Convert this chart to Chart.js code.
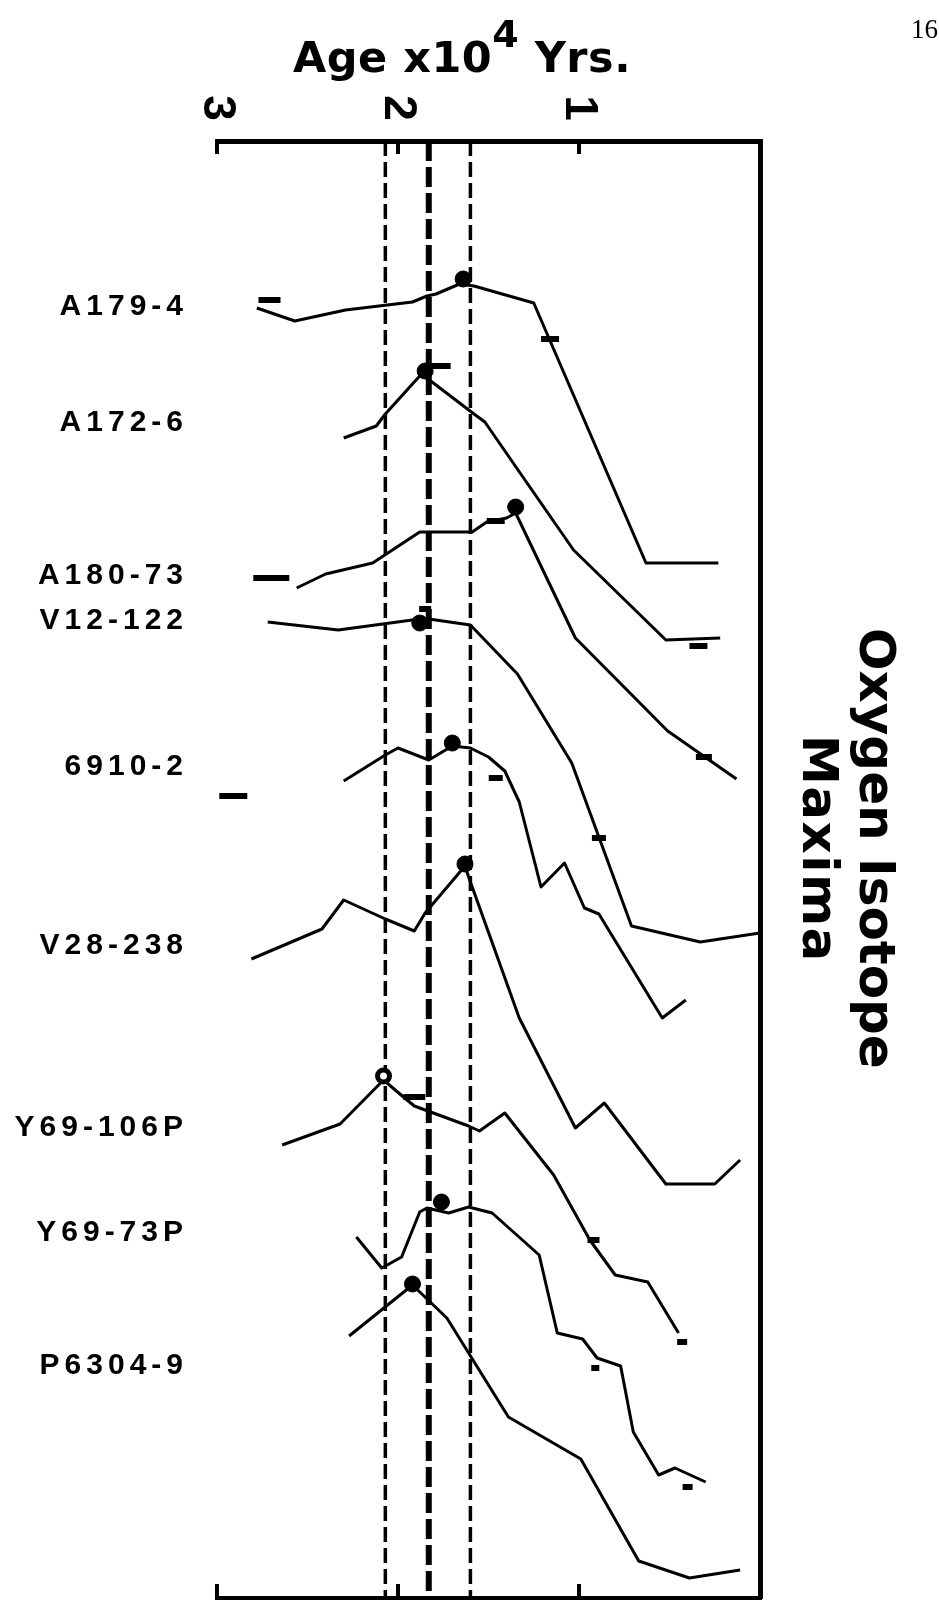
<!DOCTYPE html>
<html>
<head>
<meta charset="utf-8">
<title>Oxygen Isotope Maxima</title>
<script src="https://cdn.jsdelivr.net/npm/chart.js@4.4.1/dist/chart.umd.min.js"></script>
<style>
  body { margin: 0; background: #fff; }
  #wrap { position: relative; width: 939px; height: 1601px; overflow: hidden; }
  #wrap canvas { position: absolute; left: 0; top: 0; }
  #page { position: absolute; left: 911px; top: 16px; font: 27px/27px "Liberation Serif", serif; color: #000; }
  #title { position: absolute; left: 293px; top: 36px; font: bold 43px/43px "DejaVu Sans", sans-serif; letter-spacing: 0.5px; white-space: nowrap; color: #000; }
  #title .sup { font-size: 38px; position: relative; top: -25px; }
  .vert { position: absolute; writing-mode: vertical-rl; font: bold 50px/50px "DejaVu Sans", sans-serif; white-space: nowrap; color: #000; }
  #oxy { left: 852px; top: 628px; }
  #maxima { left: 795px; top: 735px; letter-spacing: 1.5px; }
</style>
</head>
<body>
<div id="wrap">
  <canvas id="chart" width="939" height="1601"></canvas>
  <div id="page">16</div>
  <div id="title">Age x10<span class="sup">4</span> Yrs.</div>
  <div class="vert" id="oxy">Oxygen Isotope</div>
  <div class="vert" id="maxima">Maxima</div>
</div>
<script>
// age axis (x10^4 yrs), runs right to left
const ageTicks = [3, 2, 1];

// cores, top to bottom, and where their names sit on the vertical offset axis
const coreNames = ['A179-4', 'A172-6', 'A180-73', 'V12-122', '6910-2', 'V28-238', 'Y69-106P', 'Y69-73P', 'P6304-9'];
const labelPos = [307, 423, 576, 621, 767, 946, 1128, 1233, 1366];

// vertical offset range of the panel
const yTop = 141;
const yBottom = 1598;

// profiles: [age, offset]
const a179_4 = [[2.78, 308], [2.57, 321], [2.29, 310], [1.92, 302], [1.84, 296], [1.79, 294], [1.66, 284], [1.58, 286], [1.25, 303], [0.63, 563], [0.23, 563]];
const a172_6 = [[2.30, 438], [2.12, 426], [2.07, 414], [1.87, 374], [1.58, 414], [1.52, 422], [1.31, 477], [1.03, 550], [0.52, 640], [0.22, 638]];
const a180_73 = [[2.56, 588], [2.40, 574], [2.14, 563], [1.88, 532], [1.59, 532], [1.51, 522], [1.40, 518], [1.35, 513], [1.02, 638], [0.51, 731], [0.13, 779]];
const v12_122 = [[2.72, 622], [2.33, 630], [1.88, 619], [1.83, 619], [1.60, 625], [1.34, 674], [1.04, 763], [0.71, 926], [0.33, 942], [0.00, 933]];
const c6910_2 = [[2.30, 781], [2.07, 755], [2.00, 748], [1.83, 760], [1.70, 746], [1.60, 748], [1.50, 757], [1.41, 771], [1.33, 802], [1.21, 887], [1.08, 863], [0.97, 908], [0.89, 914], [0.54, 1018], [0.41, 1000]];
const v28_238 = [[2.81, 959], [2.42, 929], [2.30, 900], [2.07, 919], [1.91, 931], [1.85, 913], [1.63, 866], [1.60, 882], [1.33, 1018], [1.02, 1128], [0.86, 1103], [0.52, 1184], [0.25, 1184], [0.11, 1160]];
const y69_106p = [[2.64, 1145], [2.32, 1124], [2.08, 1080], [1.97, 1097], [1.91, 1106], [1.85, 1110], [1.61, 1126], [1.55, 1131], [1.41, 1113], [1.14, 1175], [0.94, 1240], [0.80, 1275], [0.62, 1282], [0.45, 1333]];
const y69_73p = [[2.23, 1237], [2.09, 1268], [1.98, 1257], [1.88, 1212], [1.84, 1208], [1.72, 1213], [1.61, 1207], [1.48, 1213], [1.22, 1255], [1.12, 1333], [0.98, 1339], [0.90, 1358], [0.77, 1366], [0.70, 1432], [0.56, 1475], [0.47, 1468], [0.30, 1482]];
const p6304_9 = [[2.27, 1336], [1.92, 1285], [1.73, 1318], [1.39, 1417], [0.99, 1459], [0.67, 1561], [0.39, 1578], [0.11, 1570]];

// isotope maxima (filled), and the open one for Y69-106P
const maxima = [[1.64, 279], [1.85, 371], [1.35, 507], [1.88, 623], [1.70, 743], [1.63, 864], [1.76, 1202], [1.92, 1284]];
const maximaOpen = [[2.08, 1076]];

// short bars along the profiles
const bars = [[2.71, 300], [1.16, 339], [1.77, 366], [0.34, 646], [2.70, 578], [1.46, 521], [0.31, 757], [1.85, 609], [0.89, 838], [2.91, 796], [1.46, 778], [1.91, 1097], [0.92, 1240], [0.43, 1342], [0.91, 1368], [0.40, 1487]];

// dashed correlation lines
const guideAges = [2.07, 1.83, 1.60];

const profiles = [a179_4, a172_6, a180_73, v12_122, c6910_2, v28_238, y69_106p, y69_73p, p6304_9];
const toXY = arr => arr.map(([x, y]) => ({ x, y }));

// half-lengths of the bars (style)
const barHalf = [11, 9, 11, 9, 18, 9, 8, 6, 7, 14, 7, 11, 6, 5, 4, 5];

const datasets = [];

datasets.push({
    type: 'scatter',
    data: toXY(maxima),
    pointRadius: 8,
    pointBackgroundColor: '#000',
    pointBorderColor: '#000',
    pointBorderWidth: 1,
    order: 0
});
datasets.push({
    type: 'scatter',
    data: toXY(maximaOpen),
    pointRadius: 6,
    pointBackgroundColor: '#fff',
    pointBorderColor: '#000',
    pointBorderWidth: 5,
    order: 0
});
datasets.push({
    type: 'scatter',
    data: toXY(bars),
    pointStyle: 'line',
    pointRadius: barHalf,
    pointBorderColor: '#000',
    pointBorderWidth: 6,
    order: 1
});
profiles.forEach((p, i) => {
    datasets.push({
        type: 'line',
        label: coreNames[i],
        data: toXY(p),
        borderColor: '#000',
        borderWidth: 3,
        borderJoinStyle: 'round',
        pointRadius: 0,
        tension: 0,
        fill: false,
        order: 2
    });
});
guideAges.forEach((a, i) => {
    datasets.push({
        type: 'line',
        data: [{ x: a, y: yTop }, { x: a, y: yBottom }],
        borderColor: '#000',
        borderWidth: i === 1 ? 6 : 3.5,
        borderDash: i === 1 ? [20, 6] : [15, 6],
        pointRadius: 0,
        order: 3
    });
});

const ageAxis = (position, tickLen, borderW, height) => ({
    type: 'linear',
    position: position,
    min: 0,
    max: 3,
    reverse: true,
    afterBuildTicks: s => { s.ticks = [3, 2, 1, 0].map(v => ({ value: v })); },
    ticks: { display: false },
    grid: { drawOnChartArea: false, drawTicks: true, tickLength: tickLen, lineWidth: 4, color: '#000' },
    border: { display: true, width: borderW, color: '#000' },
    afterFit: s => { s.height = height; s.paddingLeft = 0; s.paddingRight = 0; }
});

const labelPlugin = {
    id: 'ageLabels',
    beforeDraw(chart) { chart.ctx.letterSpacing = '5px'; },
    beforeDatasetsDraw(chart) { chart.ctx.letterSpacing = '0px'; },
    afterDraw(chart) {
        const ctx = chart.ctx;
        const x = chart.scales.x;
        ctx.save();
        ctx.font = 'bold 46px "Liberation Sans"';
        ctx.fillStyle = '#000';
        ctx.textAlign = 'center';
        ctx.textBaseline = 'middle';
        ageTicks.forEach(v => {
            ctx.save();
            ctx.translate(x.getPixelForValue(v), 108);
            ctx.rotate(Math.PI / 2);
            ctx.fillText(String(v), 0, 0);
            ctx.restore();
        });
        ctx.restore();
    }
};

new Chart(document.getElementById('chart').getContext('2d'), {
    type: 'line',
    data: { datasets: datasets },
    options: {
        responsive: false,
        devicePixelRatio: 1,
        animation: false,
        layout: { autoPadding: false, padding: { left: 0, top: 0, right: 179, bottom: 3 } },
        plugins: { legend: { display: false }, tooltip: { enabled: false } },
        scales: {
            x: ageAxis('top', -13, 5, 141),
            x2: ageAxis('bottom', -14, 4, 0),
            y: {
                type: 'linear',
                position: 'left',
                min: yTop,
                max: yBottom,
                reverse: true,
                afterBuildTicks: s => { s.ticks = labelPos.map(v => ({ value: v })); },
                ticks: {
                    autoSkip: false,
                    padding: 29,
                    color: '#000',
                    font: { family: 'Liberation Sans', weight: 'bold', size: 30 },
                    callback: (v, i) => coreNames[i]
                },
                grid: { display: false, drawTicks: false },
                border: { display: false },
                afterFit: s => { s.width = 217; s.paddingTop = 0; s.paddingBottom = 0; }
            },
            y2: {
                type: 'linear',
                position: 'right',
                min: yTop,
                max: yBottom,
                reverse: true,
                ticks: { display: false },
                grid: { drawOnChartArea: false, drawTicks: false },
                border: { display: true, width: 5, color: '#000' },
                afterFit: s => { s.width = 0; }
            }
        }
    },
    plugins: [labelPlugin]
});
</script>
</body>
</html>
